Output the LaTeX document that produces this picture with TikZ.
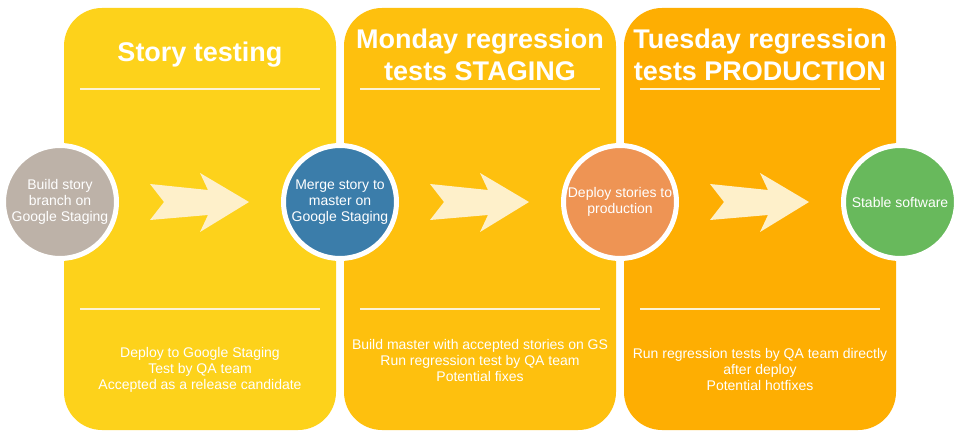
\documentclass[tikz,border=0pt]{standalone}
\usepackage{fontspec}
\setmainfont{Liberation Sans}
\usetikzlibrary{calc}
\definecolor{panA}{HTML}{FDD21B}
\definecolor{panB}{HTML}{FEC00E}
\definecolor{panC}{HTML}{FEAE02}
\definecolor{circA}{HTML}{BDB2A8}
\definecolor{circB}{HTML}{3B7DAA}
\definecolor{circC}{HTML}{EE9454}
\definecolor{circD}{HTML}{68B95C}
\definecolor{arrowcol}{HTML}{FEF0CA}
\definecolor{rulecol}{HTML}{FDF3D4}
\tikzset{
  panel/.style={rectangle, rounded corners=38pt, minimum width=272pt, minimum height=422pt, inner sep=0pt, draw=none},
  ptitle/.style={text=white, font=\fontsize{27}{32}\selectfont\bfseries, align=center, inner sep=0pt},
  pbody/.style={text=white, font=\fontsize{14}{16}\selectfont, align=center, inner sep=0pt},
  stepnode/.style={circle, minimum size=113pt, inner sep=0pt, draw=white, line width=5pt, text=white, font=\fontsize{14}{16}\selectfont, align=center},
  prule/.style={draw=rulecol, line width=2pt},
  chevron/.style={fill=arrowcol, draw=none},
}
\begin{document}
\begin{tikzpicture}[x=1pt,y=-1pt]
\useasboundingbox (0,0) rectangle (961,438);
% panels
\node[panel, fill=panA] (p1) at (200,219) {};
\node[panel, fill=panB] (p2) at (480,219) {};
\node[panel, fill=panC] (p3) at (760,219) {};
% rules
\foreach \p in {p1,p2,p3}{
  \draw[prule] ($(\p.north west)+(16,81)$) -- ($(\p.north east)+(-16,81)$);
  \draw[prule] ($(\p.north west)+(16,301)$) -- ($(\p.north east)+(-16,301)$);
}
% titles
\node[ptitle] (t1) at ($(p1.north)+(0,47)$) {Story testing};
\node[ptitle] (t2) at ($(p2.north)+(0,47)$) {Monday regression\\tests STAGING};
\node[ptitle] (t3) at ($(p3.north)+(0,47)$) {Tuesday regression\\tests PRODUCTION};
% bodies
\node[pbody] (b1) at ($(p1.north)+(0,362)$) {Deploy to Google Staging\\Test by QA team\\Accepted as a release candidate};
\node[pbody] (b2) at ($(p2.north)+(0,353)$) {Build master with accepted stories on GS\\Run regression test by QA team\\Potential fixes};
\node[pbody] (b3) at ($(p3.north)+(0,362)$) {Run regression tests by QA team directly\\after deploy\\Potential hotfixes};
% circles
\node[stepnode, fill=circA] (s1) at (60,202) {Build story\\branch on\\Google Staging};
\node[stepnode, fill=circB] (s2) at (340,202) {Merge story to\\master on\\Google Staging};
\node[stepnode, fill=circC] (s3) at (620,202) {Deploy stories to\\production};
\node[stepnode, fill=circD] (s4) at (900,202) {Stable software};
% arrows
\foreach \a/\b in {s1/s2,s2/s3,s3/s4}{
  \fill[chevron, shift={($(\a)!0.5!(\b)$)}] (-50,-18) -- (8,-12) -- (0,-29) -- (49,0) -- (0,30) -- (8,13) -- (-50,18) -- (-36,0) -- cycle;
}
\end{tikzpicture}
\end{document}
